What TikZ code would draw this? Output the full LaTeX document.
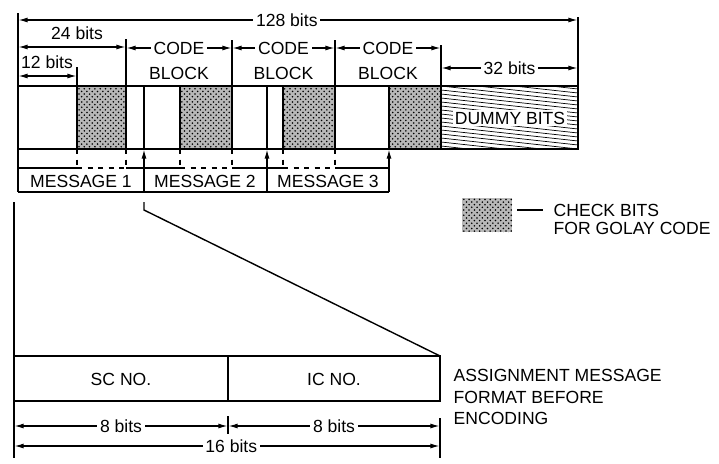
\documentclass[tikz,border=0pt]{standalone}
\usepackage{fontspec}
\setmainfont{Liberation Sans}
\usetikzlibrary{arrows.meta,patterns}

\begin{document}
\begin{tikzpicture}[x=0.02cm, y=-0.02cm, line width=0.8pt,
        font=\fontsize{10}{12}\selectfont,
        dim/.style = {{Latex[length=5.5pt,width=2.8pt]}-{Latex[length=5.5pt,width=2.8pt]}},
        up/.style = {{Latex[length=5.5pt,width=2.8pt]}-},
        lbl/.style = {fill=white, inner sep=1.5pt},
        txt/.style = {inner sep=0pt},
        dots/.style = {pattern=crosshatch dots, preaction={fill=black!28}},
        check/.style = {draw, dots}]
    \useasboundingbox (0,0) rectangle (719,463);

    % frame ticks
    \coordinate (top) at (18,13);
    \coordinate (msgbot) at (18,192);
    \draw (top) -- (msgbot);
    \draw (578,17) -- (578,86);
    \draw (441,45) -- (441,86);
    \draw (335,40) -- (335,86);
    \draw (232,40) -- (232,86);
    \draw (126,39) -- (126,86);
    \draw (77,67) -- (77,86);

    % dimensions above the word
    \draw[dim] (18,20) -- node[lbl, pos=0.48] (n128) {128 bits} (578,20);
    \draw[dim] (18,47) -- (126,47);
    \node[txt] (n24) at (77,33) {24 bits};
    \draw[dim] (18,76) -- (77,76);
    \node[txt] (n12) at (47,62) {12 bits};
    \foreach \a/\b/\n in {126/232/1, 232/335/2, 335/441/3} {
        \draw[dim] (\a,48) -- node[lbl] (code\n) {CODE} (\b,48);
        \node[txt] (block\n) at ({(\a+\b)/2},73) {BLOCK};
    }
    \draw[dim] (441,68) -- node[lbl] (n32) {32 bits} (578,68);

    % dummy bits
    \begin{scope}
        \clip (441,86) rectangle (578,149);
        \foreach \i in {-5,...,18}
            \draw[line width=0.4pt] (441,86+4*\i) -- (578,101+4*\i);
    \end{scope}
    \node[fill=white, inner sep=1pt] (dummy) at (510,118) {DUMMY BITS};

    % code word
    \draw (18,86) rectangle (578,149);
    \foreach \a/\b in {77/126, 180/232, 283/335, 389/441}
        \draw[check] (\a,86) rectangle (\b,149);

    % message boundaries
    \foreach \x/\n in {144/1, 267/2} {
        \coordinate (b\n) at (\x,149);
        \draw[up] (b\n) -- (\x,192);
        \draw (\x,86) -- (b\n);
    }
    \coordinate (b3) at (389,149);
    \draw[up] (b3) -- (389,192);

    % info bits into messages
    \foreach \x in {77,126,180,232,283,335}
        \draw[dashed] (\x,149) -- (\x,168);
    \foreach \a/\b in {18/77, 126/180, 232/283, 335/389}
        \draw (\a,168) -- (\b,168);
    \foreach \a/\b in {77/126, 180/232, 283/335}
        \draw[dashed] (\a,168) -- (\b,168);
    \draw (msgbot) -- (389,192);
    \node[txt] (msg1) at (81,181) {MESSAGE 1};
    \node[txt] (msg2) at (205,181) {MESSAGE 2};
    \node[txt] (msg3) at (328,181) {MESSAGE 3};

    % legend
    \fill[dots] (462,198) rectangle (512,232);
    \draw (517,210) -- (543,210);
    \node[txt, anchor=west] (leg1) at (553,210) {CHECK BITS};
    \node[txt, anchor=west] (leg2) at (553,228) {FOR GOLAY CODE};

    % assignment message
    \coordinate (m1) at (144,202);
    \coordinate (m1b) at (144,210);
    \coordinate (icne) at (440,356);
    \draw (m1) -- (m1b) -- (icne);
    \draw (14,202) -- (14,458);
    \draw (14,356) rectangle (icne |- 0,401);
    \draw (228,356) -- (228,401);
    \node[txt] (sc) at (121,379) {SC NO.};
    \node[txt] (ic) at (334,379) {IC NO.};
    \node[txt, align=left, anchor=north west] (assign) at (453,369)
        {ASSIGNMENT MESSAGE\\FORMAT BEFORE\\ENCODING};

    % dimensions below
    \draw (228,416) -- (228,434);
    \draw (440,418) -- (440,458);
    \draw[dim] (14,426) -- node[lbl] (n8a) {8 bits} (228,426);
    \draw[dim] (228,426) -- node[lbl] (n8b) {8 bits} (440,426);
    \draw[dim] (14,446) -- node[lbl, pos=0.51] (n16) {16 bits} (440,446);
\end{tikzpicture}
\end{document}
